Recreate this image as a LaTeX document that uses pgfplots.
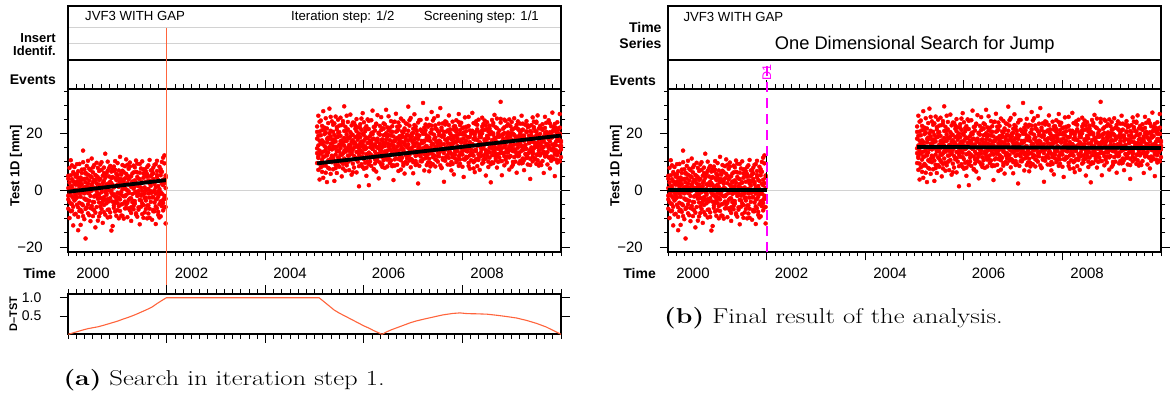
\documentclass[border=0pt]{standalone}
\usepackage{graphicx}
\usepackage{pgfplots}
\usepackage{pgfplotstable}
\pgfplotsset{compat=1.18}
\usepackage{fontspec}
\newfontfamily\arial{Liberation Sans}
\newcommand\af[1]{\fontsize{#1}{#1}\selectfont\arial}
\definecolor{dotred}{RGB}{255,0,0}
\definecolor{tstorange}{RGB}{255,100,60}
\definecolor{evmag}{RGB}{255,0,255}
\definecolor{zerogray}{RGB}{210,210,210}

% x = years since 2000.0 ; six observations per row
\pgfplotstableread{
x a b c d e f
0.000 -3.2 4.1 0.8 -6.5 5.1 -1.9
0.025 2.7 -1.4 7.9 -9.8 -4.2 0.6
0.050 -0.6 5.3 -4.7 10.6 1.3 -7.4
0.075 3.9 -7.2 1.5 -2.1 8.8 -4.9
0.100 -5.8 0.3 6.4 -12.4 -2.7 3.2
0.125 8.2 -3.6 -0.9 2.6 -8.5 5.7
0.150 -1.7 4.8 -8.3 0.2 2.0 -3.0
0.175 5.6 -2.5 3.1 -5.1 -0.6 9.2
0.200 -9.4 1.9 -14.1 6.7 4.4 -6.0
0.225 0.7 -4.4 9.3 -1.2 -7.3 2.9
0.250 -12.2 3.4 -6.9 4.5 1.7 -2.3
0.275 6.1 -0.8 2.2 -7.6 -4.8 7.3
0.300 14.0 -5.3 0.5 3.8 9.9 -9.1
0.325 -2.9 7.4 -10.2 1.1 -1.1 4.0
0.350 -17.0 2.8 -3.3 5.9 6.2 -6.6
0.375 4.2 -6.1 8.6 -0.4 -3.3 1.2
0.400 -1.0 10.4 -4.9 2.3 -8.1 5.5
0.425 3.5 -8.8 0.9 -3.7 7.6 -0.6
0.450 -6.3 5.0 -2.0 7.1 -0.4 -10.9
0.475 1.6 -0.1 11.2 -5.5 4.6 2.1
0.500 -4.1 6.3 -9.1 2.9 -6.7 8.1
0.525 8.9 -2.2 3.7 -7.0 0.9 -4.2
0.550 -13.1 0.6 5.4 -1.8 3.6 -7.9
0.575 2.4 -5.9 -0.3 9.7 -2.0 5.0
0.600 -3.0 4.6 -10.7 1.3 7.9 -1.2
0.625 6.8 -1.5 2.0 -4.3 -9.2 3.6
0.650 -8.0 9.1 -2.7 4.0 1.0 -5.7
0.675 0.1 -6.6 7.2 -0.7 -4.5 9.9
0.700 5.2 -3.9 1.4 -11.5 2.6 -2.9
0.725 -2.4 8.0 -5.2 3.3 -7.7 6.1
0.750 12.9 -0.5 4.4 -8.6 5.4 -3.4
0.775 -4.6 2.1 -1.1 6.0 -1.6 0.4
0.800 1.8 -9.6 10.1 -3.1 6.9 -6.9
0.825 -6.8 4.9 0.0 7.8 -3.9 2.5
0.850 3.0 -2.8 -7.8 1.7 8.6 -9.4
0.875 -14.2 6.6 2.5 -0.2 -0.9 4.3
0.900 7.5 -4.0 -12.6 4.7 1.9 -1.7
0.925 -1.4 1.0 8.4 -6.2 -5.3 6.8
0.950 4.3 -7.5 -2.3 10.3 7.2 -4.4
0.975 -3.5 3.6 5.8 -9.0 -2.2 1.6
1.000 9.6 -0.9 -4.5 2.0 -7.0 5.3
1.025 -5.6 7.0 1.2 -2.6 4.1 -9.9
1.050 2.9 -3.2 11.8 -7.3 -1.3 3.0
1.075 -8.9 5.5 -0.6 3.9 6.0 -5.0
1.100 0.4 -1.9 6.9 -4.8 -9.0 8.9
1.125 6.4 -10.0 3.2 0.8 2.3 -2.1
1.150 -2.1 4.2 -6.4 8.5 -4.0 0.7
1.175 10.9 -5.0 0.3 -1.6 5.8 -6.3
1.200 -4.4 2.5 -9.5 5.1 0.0 9.0
1.225 3.8 -0.4 7.6 -3.4 -6.4 -1.0
1.250 -7.1 9.8 -2.9 1.9 8.4 4.8
1.275 1.2 -6.0 4.9 -10.8 -2.8 -8.0
1.300 5.9 -1.3 -4.2 2.7 3.1 1.1
1.325 -3.8 8.7 0.6 -6.7 -5.5 6.3
1.350 8.1 -4.7 3.5 -0.9 1.4 -3.8
1.375 -0.5 2.6 -8.1 6.5 -8.6 10.5
1.400 4.7 -9.3 9.4 -2.0 6.3 -0.8
1.425 -6.0 1.4 -1.5 4.1 -0.3 -6.8
1.450 2.2 -3.4 6.2 -12.0 9.3 3.9
1.475 -1.9 7.7 -5.8 0.9 -3.6 -1.5
1.500 10.2 -0.2 2.8 -4.6 2.7 -8.4
1.525 -5.2 4.4 -9.7 7.3 -1.5 5.9
1.550 1.0 -7.8 5.0 -1.0 7.4 -2.7
1.575 6.7 -2.6 -3.6 3.0 -6.6 0.1
1.600 -9.9 5.7 0.2 -5.4 4.8 8.2
1.625 3.4 -1.1 8.8 -8.2 0.5 -5.3
1.650 -2.6 10.7 -6.5 2.4 -9.7 3.4
1.675 7.0 -4.1 1.6 -0.3 5.0 -0.9
1.700 -0.8 3.1 -10.4 5.6 -2.5 7.0
1.725 4.0 -6.9 6.0 -2.4 8.0 -7.4
1.750 -7.4 0.0 2.9 9.0 -4.3 2.2
1.775 9.2 -5.7 -1.2 -11.9 1.1 -3.3
1.800 -3.1 6.8 4.6 -6.3 10.4 5.4
1.825 1.5 -2.3 -8.7 3.6 -7.6 -0.5
1.850 -4.9 8.3 0.4 -1.4 3.3 -9.6
1.875 5.3 -9.2 7.4 -3.9 -0.7 6.6
1.900 -1.2 2.3 -5.6 10.0 6.5 -4.0
1.925 3.7 -4.5 1.8 -7.1 -3.4 11.5
1.950 -6.1 9.5 -2.8 12.3 2.5 -1.9
1.975 0.8 -3.0 5.2 -11.7 -5.9 4.5
}\segA

\pgfplotstableread{
x a b c d e f
5.050 18.2 9.6 22.5 13.1 14.8 20.6
5.075 11.4 26.3 15.8 7.2 19.2 12.0
5.100 20.7 14.0 3.8 17.5 9.4 24.2
5.125 12.9 19.4 8.1 24.6 16.6 13.2
5.150 16.3 6.5 21.2 10.8 22.7 17.6
5.175 27.9 13.6 17.0 4.4 11.9 8.7
5.200 9.3 22.1 11.9 19.8 15.6 21.4
5.225 15.1 8.7 25.4 14.2 20.3 6.2
5.250 21.8 16.9 2.9 12.3 13.0 18.1
5.275 7.9 18.6 13.3 23.7 17.9 10.6
5.300 14.6 10.2 20.1 28.8 7.6 15.2
5.325 19.0 5.8 16.4 11.1 21.0 25.9
5.350 12.0 24.3 9.9 17.9 14.4 12.2
5.375 23.1 15.5 7.4 20.6 11.6 16.9
5.400 10.5 18.0 14.8 3.3 23.6 19.5
5.425 17.2 12.6 26.0 9.0 15.3 7.8
5.450 6.1 21.5 15.3 13.8 18.7 22.3
5.475 20.2 11.6 18.9 24.9 8.9 14.0
5.500 13.7 8.3 22.8 16.1 20.5 11.1
5.525 25.6 14.9 10.4 19.2 12.6 17.3
5.550 9.8 17.6 4.9 12.5 16.1 23.0
5.575 16.8 23.4 13.0 7.7 24.4 9.3
5.600 11.2 15.7 20.9 29.6 13.9 18.5
5.625 22.4 6.9 17.3 14.4 9.7 13.6
5.650 14.1 19.7 8.8 21.0 17.4 26.3
5.675 18.5 12.2 24.1 10.0 21.5 15.1
5.700 7.1 16.0 13.9 18.3 12.3 10.4
5.725 20.5 10.7 26.7 15.9 15.0 19.0
5.750 12.8 22.9 5.5 17.1 19.8 13.4
5.775 17.7 14.3 19.5 9.4 6.4 23.9
5.800 23.8 8.0 15.0 12.1 17.0 16.4
5.825 10.9 18.8 21.7 16.6 22.9 11.5
5.850 15.4 25.1 11.3 6.3 13.5 20.8
5.875 19.3 13.4 17.8 22.2 10.1 15.7
5.900 8.5 20.0 14.7 1.4 18.9 12.5
5.925 16.5 11.8 23.3 18.7 14.1 22.0
5.950 21.3 15.6 9.2 13.5 25.3 17.2
5.975 13.2 27.2 16.2 19.9 11.7 8.2
6.000 11.0 17.4 7.6 24.0 19.5 14.7
6.025 18.1 9.7 20.8 14.5 15.5 21.9
6.050 14.9 22.6 12.7 5.1 8.0 18.6
6.075 25.0 16.7 10.1 18.4 21.7 12.8
6.100 9.1 13.3 1.8 21.6 16.8 24.5
6.125 17.5 19.1 15.2 11.5 12.8 10.2
6.150 12.4 24.7 8.6 16.9 20.1 16.0
6.175 20.4 14.6 18.0 28.1 14.6 19.8
6.200 7.5 11.9 22.3 15.8 18.2 7.3
6.225 16.2 21.1 13.6 9.5 10.9 22.6
6.250 23.5 6.6 17.6 12.9 23.3 15.4
6.275 10.3 18.2 26.5 15.0 17.1 11.4
6.300 14.8 12.8 20.3 4.2 12.1 20.0
6.325 19.6 16.4 9.8 22.7 15.7 14.2
6.350 13.0 25.8 14.1 17.7 21.3 9.0
6.375 8.2 15.3 21.9 11.6 9.2 18.0
6.400 21.7 10.6 16.8 19.4 16.4 23.6
6.425 15.6 23.2 7.9 13.7 19.6 12.9
6.450 11.7 17.9 28.4 20.1 13.3 16.7
6.475 18.9 14.0 12.0 8.4 22.2 10.8
6.500 26.1 19.5 15.5 16.3 11.2 21.1
6.525 9.6 12.3 22.0 14.6 17.7 15.9
6.550 16.0 20.7 10.5 24.4 14.0 19.3
6.575 22.6 8.9 17.2 13.2 20.6 8.5
6.600 12.6 15.9 3.6 19.0 15.1 24.0
6.625 17.3 24.2 14.3 10.9 8.7 17.5
6.650 14.2 11.3 20.6 27.0 18.0 13.0
6.675 20.9 18.5 9.0 15.4 12.9 22.4
6.700 6.8 13.9 16.6 21.4 23.9 11.0
6.725 19.1 22.7 12.4 17.6 16.5 18.3
6.750 15.7 7.3 25.3 11.8 10.6 14.5
6.775 11.5 17.0 18.7 14.9 19.4 20.7
6.800 24.5 14.5 8.7 20.4 13.6 9.6
6.825 13.4 21.2 16.1 5.9 21.8 16.8
6.850 17.8 10.0 23.6 18.8 15.8 12.4
6.875 9.4 19.6 13.1 15.2 11.3 23.4
6.900 21.0 16.2 29.5 12.2 17.6 15.0
6.925 14.4 12.5 19.2 22.8 24.7 10.5
6.950 18.3 25.5 11.1 8.1 14.2 19.1
6.975 10.8 15.1 17.4 20.0 19.0 13.8
7.000 16.6 20.3 6.0 13.3 9.9 21.7
7.025 23.0 13.8 15.6 26.8 16.0 17.8
7.050 12.1 18.4 21.5 10.3 22.5 8.9
7.075 19.7 9.3 14.0 16.7 12.5 20.9
7.100 15.3 23.9 18.1 2.4 18.4 14.1
7.125 8.6 16.1 12.6 19.3 15.2 24.8
7.150 21.4 12.9 24.8 14.7 10.3 11.9
7.175 13.5 20.8 10.2 17.4 20.8 16.6
7.200 30.8 14.8 16.9 11.0 13.7 19.9
7.225 17.1 7.0 20.5 22.1 17.5 12.7
7.250 11.3 19.8 13.2 15.5 23.2 21.2
7.275 25.2 15.0 8.9 18.6 11.8 15.6
7.300 14.0 22.4 17.7 12.7 19.1 9.8
7.325 18.7 11.1 23.1 6.7 14.8 18.4
7.350 9.7 17.3 14.9 20.3 8.4 13.1
7.375 20.1 13.0 27.6 16.0 21.4 22.8
7.400 16.4 24.6 11.7 9.2 16.2 14.4
7.425 12.3 18.1 19.6 14.1 12.2 25.4
7.450 22.9 8.4 15.4 21.8 18.6 10.9
7.475 14.5 21.6 10.6 17.2 15.4 17.1
7.500 10.1 16.5 26.2 13.4 20.9 12.1
7.525 19.4 12.0 17.5 23.5 13.1 20.3
7.550 15.9 29.0 13.7 8.8 17.2 15.5
7.575 7.8 19.0 21.3 16.2 22.1 8.0
7.600 23.6 14.2 11.4 18.9 10.8 19.4
7.625 13.1 20.6 16.3 3.0 19.3 14.6
7.650 17.9 10.4 24.3 14.8 14.3 23.2
7.675 11.9 17.7 15.1 20.7 24.0 11.7
7.700 21.1 15.2 9.1 12.4 16.7 18.2
7.725 14.7 23.0 18.4 26.4 11.4 13.5
7.750 9.0 13.5 20.2 16.4 20.0 21.5
7.775 18.0 19.3 12.8 7.0 15.9 10.0
7.800 24.2 11.7 16.7 15.3 9.3 16.3
7.825 12.7 21.4 5.6 19.1 18.1 22.5
7.850 16.9 14.4 22.6 11.2 13.8 12.6
7.875 20.6 9.9 17.1 24.7 21.6 19.2
7.900 10.7 18.3 13.8 15.6 17.3 14.8
7.925 15.2 26.9 19.7 8.6 12.0 24.1
7.950 19.9 12.6 10.9 21.2 23.0 9.4
7.975 13.3 16.8 23.8 17.3 15.0 17.9
8.000 8.3 22.0 14.6 12.6 19.7 13.9
8.025 22.1 15.4 18.2 4.7 11.0 20.4
8.050 14.3 10.8 25.7 19.5 16.9 15.8
8.075 17.4 20.9 11.8 13.9 22.4 11.3
8.100 11.6 13.7 16.0 22.4 14.5 18.8
8.125 25.9 18.6 9.7 15.1 8.6 22.7
8.150 15.8 7.6 21.1 17.0 18.8 12.3
8.175 12.5 19.9 14.4 10.6 13.4 16.2
8.200 20.3 16.3 27.3 13.0 20.4 21.0
8.225 9.9 23.7 12.2 18.1 15.8 7.7
8.250 18.6 14.1 17.9 6.4 10.4 19.7
8.275 13.8 11.0 20.7 23.3 24.3 14.3
8.300 21.5 17.8 8.5 15.7 17.8 23.1
8.325 16.1 24.9 15.9 11.4 12.7 10.7
8.350 7.2 12.7 19.0 20.5 19.9 17.0
8.375 19.5 18.7 13.5 16.5 14.9 12.0
8.400 14.6 9.4 22.5 25.6 21.2 20.1
8.425 23.4 15.8 10.7 12.3 9.8 15.3
8.450 11.1 21.3 17.6 18.0 16.3 24.6
8.475 17.6 13.2 5.2 14.2 22.8 11.2
8.500 12.2 19.2 24.0 21.6 13.2 18.7
8.525 20.8 8.2 16.5 10.1 18.3 13.7
8.550 15.0 22.8 13.4 19.7 11.5 21.8
8.575 9.2 16.6 20.4 2.8 20.7 16.5
8.600 24.8 12.4 14.8 17.7 15.7 9.9
8.625 13.6 20.1 9.6 22.9 23.7 19.6
8.650 18.4 15.5 26.6 13.6 12.4 14.9
8.675 10.6 11.4 18.5 16.8 17.4 22.2
8.700 21.9 25.3 12.1 8.0 14.7 12.8
8.725 16.7 14.7 19.4 20.2 10.0 18.9
8.750 12.9 18.9 11.5 15.9 21.1 15.2
8.775 31.2 10.3 23.9 14.0 16.6 25.2
8.800 14.9 17.2 16.4 5.3 19.5 10.3
8.825 19.8 13.1 21.7 18.3 13.0 16.9
8.850 8.8 22.2 15.2 12.0 24.9 20.2
8.875 17.0 16.9 10.8 24.5 15.9 13.4
8.900 22.7 9.8 18.8 14.5 11.9 17.6
8.925 13.9 20.4 13.3 19.6 18.5 23.3
8.950 11.8 15.3 25.0 7.3 14.1 11.6
8.975 20.0 12.1 17.3 16.1 22.6 19.0
9.000 15.5 24.1 8.3 21.3 17.7 14.2
9.025 10.0 17.5 20.0 13.8 9.0 21.6
9.050 25.4 14.2 14.5 11.7 19.6 16.1
9.075 14.1 19.0 22.1 17.8 13.5 10.1
9.100 18.8 6.2 12.5 23.1 21.9 18.4
9.125 12.0 21.7 16.2 15.0 16.2 24.3
9.150 21.2 13.0 9.5 19.2 12.2 13.3
9.175 16.3 23.5 18.6 10.4 20.2 17.4
9.200 9.5 15.7 13.9 26.3 15.4 21.1
9.225 19.2 11.2 21.4 14.3 23.5 9.7
9.250 14.4 18.5 7.1 17.4 10.7 19.3
9.275 23.1 16.0 15.8 12.8 18.0 15.0
9.300 11.4 20.5 24.4 20.8 14.6 12.2
9.325 17.9 12.9 11.6 9.1 22.3 22.9
9.350 13.2 22.5 19.3 16.6 16.9 17.7
9.375 20.9 8.9 14.2 4.0 11.1 14.0
9.400 15.1 17.1 23.0 18.5 19.3 20.5
9.425 10.2 25.7 12.9 13.3 13.9 11.8
9.450 22.3 14.8 17.0 21.9 24.2 18.6
9.475 16.6 10.9 20.9 11.3 15.6 15.3
9.500 12.6 19.4 9.3 24.2 20.7 23.8
9.525 26.4 15.2 16.7 15.4 12.5 10.6
9.550 14.0 21.8 13.0 8.7 17.9 19.5
9.575 18.2 12.3 22.7 19.9 9.6 16.4
9.600 8.9 17.6 15.6 14.6 21.8 13.0
9.625 21.6 23.3 10.3 17.1 15.0 21.3
9.650 15.3 13.6 18.3 6.1 19.0 17.3
9.675 11.9 20.2 25.9 22.0 13.1 12.4
9.700 19.7 16.4 12.3 12.5 23.8 20.6
9.725 13.5 9.1 20.1 18.7 16.1 15.7
9.750 24.1 18.0 14.9 15.8 11.6 24.7
9.775 17.2 14.9 7.7 23.6 20.5 11.4
9.800 10.4 22.6 19.8 11.9 14.3 18.5
9.825 20.7 11.5 16.1 27.4 18.7 14.1
9.850 14.7 19.1 11.0 16.0 22.4 21.4
9.875 16.4 5.0 23.4 13.1 12.6 16.0
9.900 22.0 15.9 14.1 20.6 17.2 10.8
9.925 12.4 24.0 18.1 9.8 21.1 19.9
9.950 18.1 13.3 21.6 17.5 10.5 13.6
9.975 15.6 20.0 10.2 26.9 19.8 22.1
10.000 11.7 17.4 15.7 14.4 15.3 17.0
}\segB

\pgfplotstableread{
x t
0.00 0.00
0.10 0.04
0.20 0.08
0.30 0.12
0.40 0.155
0.50 0.18
0.60 0.205
0.70 0.24
0.80 0.28
0.90 0.32
1.00 0.36
1.10 0.41
1.20 0.455
1.30 0.505
1.40 0.56
1.50 0.62
1.60 0.68
1.70 0.745
1.80 0.84
1.90 0.925
1.99 1.00
5.09 1.00
5.20 0.88
5.30 0.77
5.40 0.66
5.50 0.58
5.60 0.51
5.70 0.44
5.80 0.37
5.90 0.30
6.00 0.23
6.10 0.17
6.20 0.10
6.30 0.04
6.37 0.00
6.45 0.06
6.55 0.12
6.65 0.17
6.75 0.22
6.85 0.27
6.95 0.32
7.05 0.36
7.20 0.41
7.40 0.47
7.60 0.53
7.80 0.57
7.95 0.585
8.10 0.565
8.30 0.56
8.50 0.55
8.70 0.52
8.90 0.485
9.10 0.445
9.30 0.38
9.50 0.30
9.70 0.20
9.85 0.10
10.00 0.00
}\dtst

\pgfplotsset{
  tsbase/.style={
    scale only axis, width=492.7pt, xmin=0, xmax=10, clip=false,
    axis line style={line width=2pt},
    every tick/.style={black, line width=0.9pt},
    tick align=outside,
    major tick length=8.5pt, minor tick length=4.3pt,
    xtick={2,4,6,8}, xticklabels={,,,},
    minor xtick={0,0.166667,...,10},
    xtick pos=both, ytick pos=both,
    ticklabel pos=lower,
    xticklabel style={font=\af{15}, anchor=base, inner sep=0pt, yshift=-26.5pt},
    yticklabel style={font=\af{15}, anchor=east, inner sep=0pt, xshift=-16.8pt},
  },
  tsmain/.style={
    tsbase, height=163.3pt, ymin=-21.7, ymax=35.9,
    ytick={-20,0,20}, yticklabels={−20,0,20},
    minor ytick={-20,-15,...,35},
    extra x ticks={0.5,2.5,4.5,6.5,8.5},
    extra x tick labels={2000,2002,2004,2006,2008},
    extra x tick style={major tick length=0pt},
  },
  tsover/.style={
    scale only axis, width=492.7pt, height=163.3pt, xmin=0, xmax=10,
    ymin=-21.7, ymax=35.9, hide axis, clip=false,
  },
  dots/.style={only marks, mark=*, mark size=2.0pt, color=dotred, mark options={draw=none, fill=dotred}},
}

\newcommand\plotalldots{%
  \addplot[dots] table[x index=0, y index=1] {\segA};
  \addplot[dots] table[x index=0, y index=2] {\segA};
  \addplot[dots] table[x index=0, y index=3] {\segA};
  \addplot[dots] table[x index=0, y index=4] {\segA};
  \addplot[dots] table[x index=0, y index=5] {\segA};
  \addplot[dots] table[x index=0, y index=6] {\segA};
  \addplot[dots] table[x index=0, y index=1] {\segB};
  \addplot[dots] table[x index=0, y index=2] {\segB};
  \addplot[dots] table[x index=0, y index=3] {\segB};
  \addplot[dots] table[x index=0, y index=4] {\segB};
  \addplot[dots] table[x index=0, y index=5] {\segB};
  \addplot[dots] table[x index=0, y index=6] {\segB};
}
\newcommand\capfont{\fontsize{21.5}{25}\selectfont}

\begin{document}
\begin{tikzpicture}[x=1pt,y=1pt]
\path[use as bounding box] (0,0) rectangle (1171,-394);

% ---------------- panel (a) ----------------
\draw[line width=2pt] (68.3,-88.5) -- (68.3,-5.7) -- (561,-5.7) -- (561,-88.5);
\draw[line width=2pt] (68.3,-60) -- (561,-60);
\draw[zerogray, line width=0.8pt] (69.3,-27.7) -- (560,-27.7) (69.3,-43.3) -- (560,-43.3);
\node[anchor=base west, inner sep=0, font=\af{13.2}] at (85,-20.7) {JVF3 WITH GAP};
\node[anchor=base west, inner sep=0, font=\af{13.2}] at (291,-20.7) {Iteration step: 1/2};
\node[anchor=base east, inner sep=0, font=\af{13.2}] at (539,-20.7) {Screening step: 1/1};
\node[anchor=base east, inner sep=0, font=\af{13}\bfseries] at (56,-42.3) {Insert};
\node[anchor=base east, inner sep=0, font=\af{13}\bfseries] at (56,-55) {Identif.};
\node[anchor=base east, inner sep=0, font=\af{14}\bfseries] at (56,-84.5) {Events};
\node[anchor=base east, inner sep=0, font=\af{14}\bfseries] at (56,-278.3) {Time};
\node[rotate=90, inner sep=0, font=\af{13}\bfseries] at (16,-166) {Test 1D [mm]};
\node[rotate=90, inner sep=0, font=\af{11}\bfseries] at (13.3,-314) {D–TST};

\begin{axis}[tsmain, at={(68.3pt,-88.5pt)}, anchor=north west]
\addplot[zerogray, line width=0.8pt] coordinates {(0,0) (10,0)};
\plotalldots
\end{axis}
\begin{axis}[tsover, at={(68.3pt,-88.5pt)}, anchor=north west]
\addplot[black, line width=3.8pt] coordinates {(0,-0.5) (1.99,3.6)};
\addplot[black, line width=3.8pt] coordinates {(5.05,9.5) (10,19.3)};
\addplot[tstorange, line width=0.9pt] coordinates {(2.0,57.3) (2.0,-36.5)};
\end{axis}

\begin{axis}[tsbase, at={(68.3pt,-293.7pt)}, anchor=north west, height=40.6pt,
  ymin=0, ymax=1.11, ytick={0.5,1}, yticklabels={0.5,1.0},
  yticklabel style={font=\af{14}, xshift=-1.5pt}]
\addplot[tstorange, line width=1.1pt] table[x index=0, y index=1] {\dtst};
\end{axis}

\node[anchor=base west, inner sep=0, font=\capfont] at (63.3,-385) {\scalebox{1.24}[1]{\textbf{(a)} Search in iteration step 1.}};

% ---------------- panel (b) ----------------
\draw[line width=2pt] (668.3,-88.5) -- (668.3,-5.7) -- (1161,-5.7) -- (1161,-88.5);
\draw[line width=2pt] (668.3,-60) -- (1161,-60);
\node[anchor=base west, inner sep=0, font=\af{13.2}] at (683.3,-21.7) {JVF3 WITH GAP};
\node[anchor=base, inner sep=0, font=\af{18.3}] at (914.7,-49.3) {One Dimensional Search for Jump};
\node[anchor=base east, inner sep=0, font=\af{14}\bfseries] at (661.7,-32.3) {Time};
\node[anchor=base east, inner sep=0, font=\af{14}\bfseries] at (661.7,-48.3) {Series};
\node[anchor=base east, inner sep=0, font=\af{14}\bfseries] at (656,-85) {Events};
\node[anchor=base east, inner sep=0, font=\af{14}\bfseries] at (656,-278.3) {Time};
\node[rotate=90, inner sep=0, font=\af{13}\bfseries] at (616,-166) {Test 1D [mm]};

\begin{axis}[tsmain, at={(668.3pt,-88.5pt)}, anchor=north west]
\addplot[zerogray, line width=0.8pt] coordinates {(0,0) (10,0)};
\plotalldots
\end{axis}
\begin{axis}[tsover, at={(668.3pt,-88.5pt)}, anchor=north west]
\addplot[black, line width=3.8pt] coordinates {(0,0) (2.0,0)};
\addplot[black, line width=3.8pt] coordinates {(5.05,15.3) (10,14.9)};
\addplot[black, line width=1pt] coordinates {(2.0,0) (2.0,15.5)};
\addplot[evmag, line width=1.8pt, dash pattern=on 10pt off 6pt] coordinates {(2.0,-21.7) (2.0,45.9)};
\node[rotate=90, text=evmag, inner sep=0, font=\af{12.5}] at (axis cs:2.0,41.4) {D1};
\end{axis}

\node[anchor=base west, inner sep=0, font=\capfont] at (664,-323.3) {\scalebox{1.24}[1]{\textbf{(b)} Final result of the analysis.}};
\end{tikzpicture}
\end{document}
